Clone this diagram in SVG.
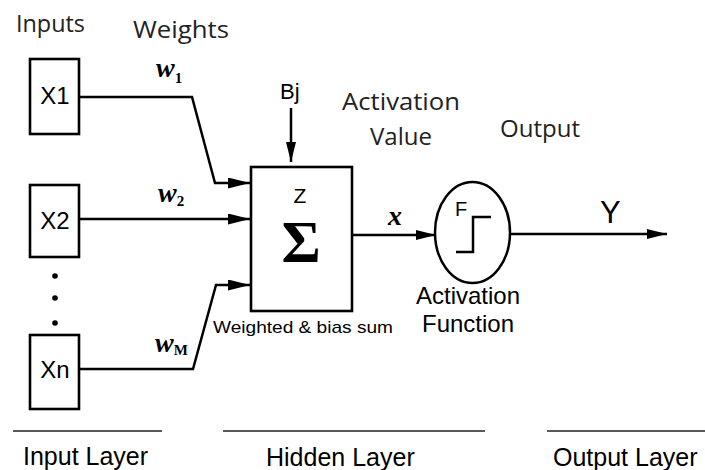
<svg xmlns="http://www.w3.org/2000/svg" width="705" height="470" viewBox="0 0 705 470">
<style>
.box{fill:#fff;stroke:#000;stroke-width:2.6}
.ln{fill:none;stroke:#000;stroke-width:2.5;stroke-linejoin:miter}
.sep{stroke:#222;stroke-width:1.5}
.t{font-family:"Liberation Sans",Arial,sans-serif;fill:#000}
.h{font-family:"Open Sans","Noto Sans",sans-serif;fill:#222}
.w{font-family:"Liberation Serif","Times New Roman",serif;font-weight:bold;font-style:italic;font-size:28px;fill:#000}
.sub{font-size:15px;font-style:normal}
.sig{font-family:"Liberation Serif","Times New Roman",serif;font-weight:bold;font-size:60px;fill:#000}
</style>
<defs>
<marker id="ah" markerUnits="userSpaceOnUse" markerWidth="24" markerHeight="12" refX="22" refY="5.5" orient="auto">
<path d="M0,0 L22,5.5 L0,11 z" fill="#000"/>
</marker>
<marker id="ah2" markerUnits="userSpaceOnUse" markerWidth="22" markerHeight="12" refX="20" refY="5" orient="auto">
<path d="M0,0 L20,5 L0,10 z" fill="#000"/>
</marker>
</defs>
<rect width="705" height="470" fill="#fff"/>

<g id="headers">
<text class="h" x="16" y="32" font-size="23" textLength="69" lengthAdjust="spacingAndGlyphs">Inputs</text>
<text class="h" x="133" y="38" font-size="23" textLength="96" lengthAdjust="spacingAndGlyphs">Weights</text>
<text class="h" x="342" y="110" font-size="23" textLength="118" lengthAdjust="spacingAndGlyphs">Activation</text>
<text class="h" x="370" y="145" font-size="23" textLength="62" lengthAdjust="spacingAndGlyphs">Value</text>
<text class="h" x="500" y="137" font-size="23" textLength="80" lengthAdjust="spacingAndGlyphs">Output</text>
</g>

<g id="connectors">
<polyline class="ln" points="79,97 192,97 215,183 250,183" marker-end="url(#ah)"/>
<line class="ln" x1="79" y1="219" x2="250" y2="219" marker-end="url(#ah)"/>
<polyline class="ln" points="79,369 193,369 216,285 250,285" marker-end="url(#ah)"/>
<line class="ln" x1="291" y1="108" x2="291" y2="162" marker-end="url(#ah2)"/>
<line class="ln" x1="352" y1="235" x2="436" y2="235" marker-end="url(#ah2)"/>
<line class="ln" x1="510" y1="234" x2="667" y2="234" marker-end="url(#ah2)"/>
</g>

<g id="weights">
<text class="w" x="156" y="77">w<tspan class="sub" dy="6">1</tspan></text>
<text class="w" x="158" y="202">w<tspan class="sub" dy="4">2</tspan></text>
<text class="w" x="155" y="352">w<tspan class="sub" dy="3">M</tspan></text>
</g>

<g id="x1">
<rect class="box" x="30" y="59" width="49" height="75"/>
<text class="t" x="55" y="104" font-size="24" text-anchor="middle">X1</text>
</g>
<g id="x2">
<rect class="box" x="30" y="185" width="49" height="72"/>
<text class="t" x="55" y="229" font-size="24" text-anchor="middle">X2</text>
</g>
<g id="dots">
<circle cx="55" cy="276" r="2.8" fill="#000"/>
<circle cx="55" cy="298" r="2.8" fill="#000"/>
<circle cx="55" cy="323" r="2.8" fill="#000"/>
</g>
<g id="xn">
<rect class="box" x="30" y="335" width="49" height="74"/>
<text class="t" x="55" y="378" font-size="24" text-anchor="middle">Xn</text>
</g>

<g id="bias">
<text class="t" x="280" y="99" font-size="22">Bj</text>
</g>

<g id="sum">
<rect class="box" x="251" y="167" width="101" height="144"/>
<text class="t" x="300" y="203" font-size="21" text-anchor="middle">Z</text>
<text class="sig" x="301" y="262" text-anchor="middle">Σ</text>
<text class="t" x="213" y="333" font-size="17" textLength="180" lengthAdjust="spacingAndGlyphs">Weighted &amp; bias sum</text>
</g>

<g id="xlabel">
<text class="w" x="388" y="225" font-size="27">x</text>
</g>

<g id="activation">
<ellipse cx="472.5" cy="232.5" rx="37.5" ry="50.5" fill="#fff" stroke="#000" stroke-width="2.5"/>
<text class="t" x="455" y="216" font-size="20">F</text>
<polyline class="ln" points="456,252 473,252 473,217 491,217"/>
<text class="t" x="468" y="304" font-size="24" text-anchor="middle">Activation</text>
<text class="t" x="468" y="332" font-size="24" text-anchor="middle">Function</text>
</g>

<g id="output">
<text class="t" x="600" y="223" font-size="31">Y</text>
</g>

<g id="layers">
<line class="sep" x1="13" y1="431" x2="162" y2="431"/>
<line class="sep" x1="223" y1="431" x2="485" y2="431"/>
<line class="sep" x1="547" y1="431" x2="705" y2="431"/>
<text class="t" x="23" y="465" font-size="25">Input Layer</text>
<text class="t" x="266" y="466" font-size="25">Hidden Layer</text>
<text class="t" x="553" y="466" font-size="25">Output Layer</text>
</g>
</svg>
